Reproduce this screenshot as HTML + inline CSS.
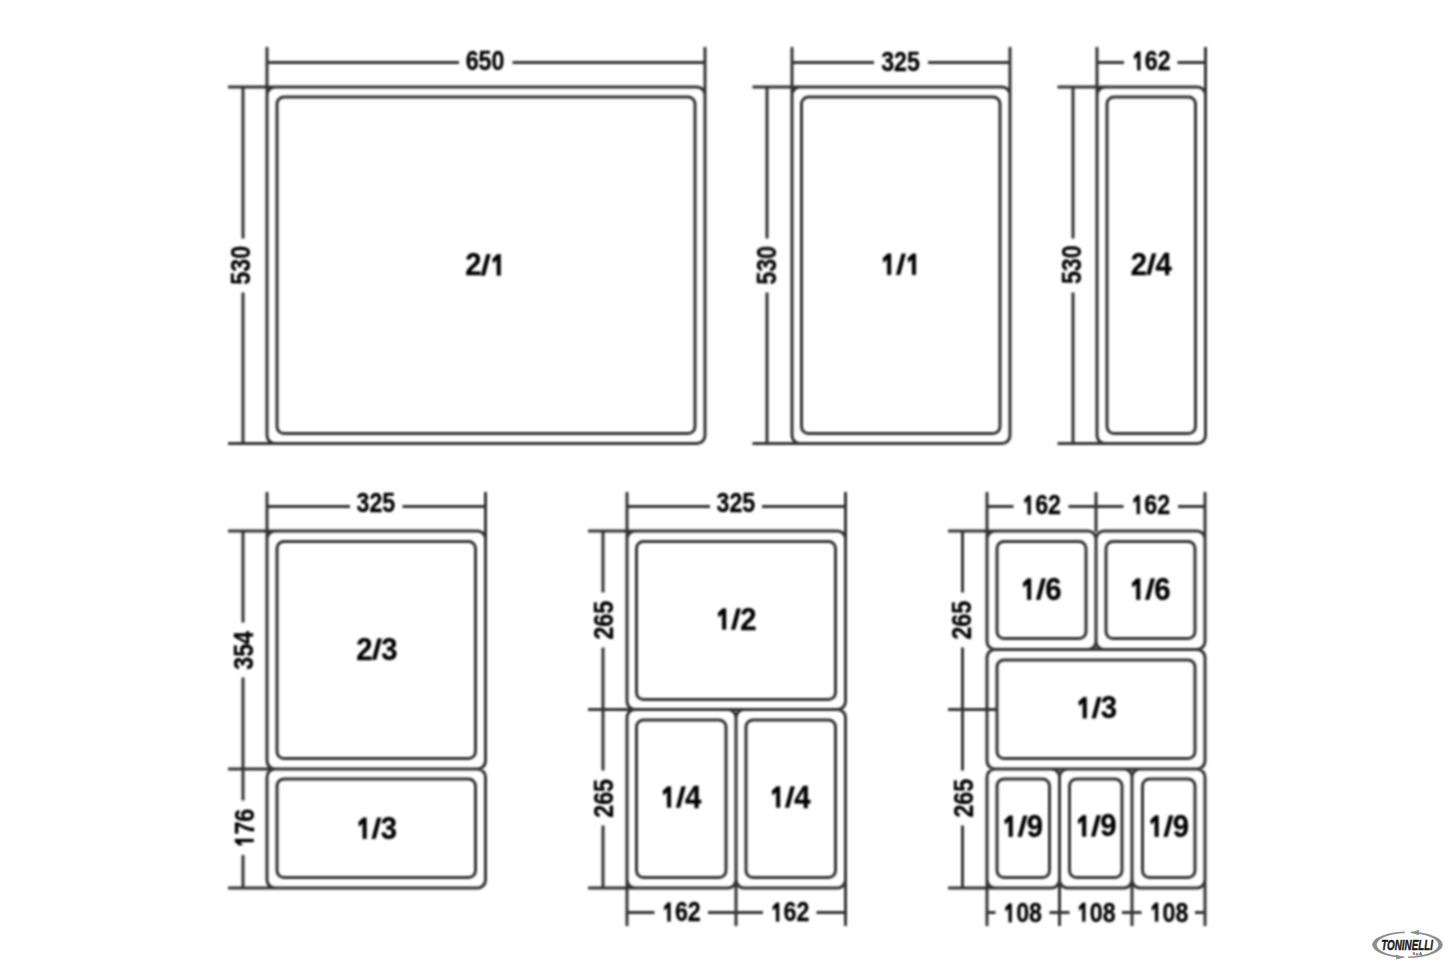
<!DOCTYPE html>
<html><head><meta charset="utf-8"><style>
html,body{margin:0;padding:0;background:#fff;}
svg{display:block;}
text{font-family:"Liberation Sans",sans-serif;font-weight:bold;}
</style></head><body>
<svg width="1445" height="963" viewBox="0 0 1445 963">
<defs><filter id="b" x="-1%" y="-1%" width="102%" height="102%"><feGaussianBlur stdDeviation="0.8"/></filter><filter id="t" x="-1%" y="-1%" width="102%" height="102%"><feGaussianBlur stdDeviation="0.8"/></filter></defs>
<rect width="1445" height="963" fill="#fff"/>
<g filter="url(#b)">
<path d="M275 87H697A8 8 0 0 1 705 95V435.5A8 8 0 0 1 697 443.5H275A8 8 0 0 1 267 435.5V95A8 8 0 0 1 275 87Z M284 97H688A7 7 0 0 1 695 104V426.5A7 7 0 0 1 688 433.5H284A7 7 0 0 1 277 426.5V104A7 7 0 0 1 284 97Z M267 47L267 95 M705 47L705 95 M228 87L275 87 M228 443.5L275 443.5 M267 62.5L459 62.5 M512.5 62.5L705 62.5 M243 87L243 238.5 M243 292.5L243 443.5 M800 87H1002A8 8 0 0 1 1010 95V435.5A8 8 0 0 1 1002 443.5H800A8 8 0 0 1 792 435.5V95A8 8 0 0 1 800 87Z M808.5 97H993A7 7 0 0 1 1000 104V426.5A7 7 0 0 1 993 433.5H808.5A7 7 0 0 1 801.5 426.5V104A7 7 0 0 1 808.5 97Z M792 47L792 95 M1010 47L1010 95 M752.5 87L800 87 M752.5 443.5L800 443.5 M792 62.5L874 62.5 M928 62.5L1010 62.5 M767 87L767 238.5 M767 292.5L767 443.5 M1105 87H1197.5A8 8 0 0 1 1205.5 95V435.5A8 8 0 0 1 1197.5 443.5H1105A8 8 0 0 1 1097 435.5V95A8 8 0 0 1 1105 87Z M1114 97H1188.5A7 7 0 0 1 1195.5 104V426.5A7 7 0 0 1 1188.5 433.5H1114A7 7 0 0 1 1107 426.5V104A7 7 0 0 1 1114 97Z M1097 47L1097 95 M1205.5 47L1205.5 95 M1057.5 87L1105 87 M1057.5 443.5L1105 443.5 M1097 62.5L1124 62.5 M1177.5 62.5L1205.5 62.5 M1073 87L1073 238.5 M1073 292.5L1073 443.5 M275 531H477.5A8 8 0 0 1 485.5 539V761A8 8 0 0 1 477.5 769H275A8 8 0 0 1 267 761V539A8 8 0 0 1 275 531Z M275 769H477.5A8 8 0 0 1 485.5 777V880A8 8 0 0 1 477.5 888H275A8 8 0 0 1 267 880V777A8 8 0 0 1 275 769Z M284 541.5H468.5A7 7 0 0 1 475.5 548.5V751.5A7 7 0 0 1 468.5 758.5H284A7 7 0 0 1 277 751.5V548.5A7 7 0 0 1 284 541.5Z M284 779H468.5A7 7 0 0 1 475.5 786V870.5A7 7 0 0 1 468.5 877.5H284A7 7 0 0 1 277 870.5V786A7 7 0 0 1 284 779Z M267 492L267 539 M485.5 492L485.5 539 M228 531L275 531 M228 769L275 769 M228 888L275 888 M267 506.5L350 506.5 M402.5 506.5L485.5 506.5 M243 531L243 622.5 M243 677.5L243 800.5 M243 855L243 888 M635 531H837.5A8 8 0 0 1 845.5 539V701.5A8 8 0 0 1 837.5 709.5H635A8 8 0 0 1 627 701.5V539A8 8 0 0 1 635 531Z M635 709.5H728A8 8 0 0 1 736 717.5V880A8 8 0 0 1 728 888H635A8 8 0 0 1 627 880V717.5A8 8 0 0 1 635 709.5Z M744 709.5H837.5A8 8 0 0 1 845.5 717.5V880A8 8 0 0 1 837.5 888H744A8 8 0 0 1 736 880V717.5A8 8 0 0 1 744 709.5Z M643.5 541.5H828.5A7 7 0 0 1 835.5 548.5V692.5A7 7 0 0 1 828.5 699.5H643.5A7 7 0 0 1 636.5 692.5V548.5A7 7 0 0 1 643.5 541.5Z M643.5 720H719A7 7 0 0 1 726 727V870.5A7 7 0 0 1 719 877.5H643.5A7 7 0 0 1 636.5 870.5V727A7 7 0 0 1 643.5 720Z M753 720H828.5A7 7 0 0 1 835.5 727V870.5A7 7 0 0 1 828.5 877.5H753A7 7 0 0 1 746 870.5V727A7 7 0 0 1 753 720Z M627 492L627 539 M845.5 492L845.5 539 M588 531L635 531 M588 709.5L635 709.5 M588 888L635 888 M627 880L627 926 M845.5 880L845.5 926 M736 880L736 926 M627 506.5L710 506.5 M762 506.5L845.5 506.5 M603 531L603 592.5 M603 647.5L603 770.5 M603 825.5L603 888 M627 912.5L654.5 912.5 M708 912.5L763 912.5 M816.5 912.5L845.5 912.5 M995 531H1088A8 8 0 0 1 1096 539V641.5A8 8 0 0 1 1088 649.5H995A8 8 0 0 1 987 641.5V539A8 8 0 0 1 995 531Z M1104 531H1197A8 8 0 0 1 1205 539V641.5A8 8 0 0 1 1197 649.5H1104A8 8 0 0 1 1096 641.5V539A8 8 0 0 1 1104 531Z M995 649.5H1197A8 8 0 0 1 1205 657.5V761A8 8 0 0 1 1197 769H995A8 8 0 0 1 987 761V657.5A8 8 0 0 1 995 649.5Z M995 769H1051.5A8 8 0 0 1 1059.5 777V880A8 8 0 0 1 1051.5 888H995A8 8 0 0 1 987 880V777A8 8 0 0 1 995 769Z M1067.5 769H1124A8 8 0 0 1 1132 777V880A8 8 0 0 1 1124 888H1067.5A8 8 0 0 1 1059.5 880V777A8 8 0 0 1 1067.5 769Z M1140 769H1197A8 8 0 0 1 1205 777V880A8 8 0 0 1 1197 888H1140A8 8 0 0 1 1132 880V777A8 8 0 0 1 1140 769Z M1004 541.5H1079A7 7 0 0 1 1086 548.5V631.5A7 7 0 0 1 1079 638.5H1004A7 7 0 0 1 997 631.5V548.5A7 7 0 0 1 1004 541.5Z M1113 541.5H1188A7 7 0 0 1 1195 548.5V631.5A7 7 0 0 1 1188 638.5H1113A7 7 0 0 1 1106 631.5V548.5A7 7 0 0 1 1113 541.5Z M1004 660H1188A7 7 0 0 1 1195 667V751.5A7 7 0 0 1 1188 758.5H1004A7 7 0 0 1 997 751.5V667A7 7 0 0 1 1004 660Z M1004 779H1042.5A7 7 0 0 1 1049.5 786V870.5A7 7 0 0 1 1042.5 877.5H1004A7 7 0 0 1 997 870.5V786A7 7 0 0 1 1004 779Z M1076.5 779H1115A7 7 0 0 1 1122 786V870.5A7 7 0 0 1 1115 877.5H1076.5A7 7 0 0 1 1069.5 870.5V786A7 7 0 0 1 1076.5 779Z M1149.5 779H1188A7 7 0 0 1 1195 786V870.5A7 7 0 0 1 1188 877.5H1149.5A7 7 0 0 1 1142.5 870.5V786A7 7 0 0 1 1149.5 779Z M987 492L987 539 M1205 492L1205 539 M1096 492L1096 532 M948 531L995 531 M948 709.5L997 709.5 M948 888L995 888 M987 880L987 926 M1205 880L1205 926 M1059.5 880L1059.5 926 M1132 880L1132 926 M987 506.5L1013.5 506.5 M1068.5 506.5L1123.5 506.5 M1178 506.5L1205 506.5 M962.5 531L962.5 592.5 M962.5 647.5L962.5 770.5 M962.5 825.5L962.5 888 M987 912.5L995.5 912.5 M1049.5 912.5L1069.5 912.5 M1122 912.5L1141.5 912.5 M1195 912.5L1205 912.5" fill="none" stroke="#303030" stroke-width="3.0" stroke-linecap="butt"/>
</g>
<g fill="#000" stroke="#000" stroke-width="0.3" filter="url(#t)">
<g transform="translate(485.00 61.00) scale(0.85 1)"><text x="-22.77" y="9.39" font-size="27.3">6</text><text x="-7.59" y="9.39" font-size="27.3">5</text><text x="7.59" y="9.39" font-size="27.3">0</text></g>
<g transform="translate(900.50 61.20) scale(0.85 1)"><text x="-22.77" y="9.39" font-size="27.3">3</text><text x="-7.59" y="9.39" font-size="27.3">2</text><text x="7.59" y="9.39" font-size="27.3">5</text></g>
<g transform="translate(1151.20 60.98) scale(0.85 1)"><path transform="translate(-22.77 9.39) scale(27.3)" stroke-width="0.0110" d="M0.2350 0 L0.3650 0 L0.3650 -0.6880 L0.2450 -0.6880 L0.0850 -0.5380 L0.1150 -0.3980 L0.2350 -0.5080 Z"/><text x="-7.59" y="9.39" font-size="27.3">6</text><text x="7.59" y="9.39" font-size="27.3">2</text></g>
<g transform="translate(375.90 502.20) scale(0.85 1)"><text x="-22.77" y="9.39" font-size="27.3">3</text><text x="-7.59" y="9.39" font-size="27.3">2</text><text x="7.59" y="9.39" font-size="27.3">5</text></g>
<g transform="translate(735.90 502.80) scale(0.85 1)"><text x="-22.77" y="9.39" font-size="27.3">3</text><text x="-7.59" y="9.39" font-size="27.3">2</text><text x="7.59" y="9.39" font-size="27.3">5</text></g>
<g transform="translate(1041.60 505.00) scale(0.85 1)"><path transform="translate(-22.77 9.39) scale(27.3)" stroke-width="0.0110" d="M0.2350 0 L0.3650 0 L0.3650 -0.6880 L0.2450 -0.6880 L0.0850 -0.5380 L0.1150 -0.3980 L0.2350 -0.5080 Z"/><text x="-7.59" y="9.39" font-size="27.3">6</text><text x="7.59" y="9.39" font-size="27.3">2</text></g>
<g transform="translate(1150.70 504.70) scale(0.85 1)"><path transform="translate(-22.77 9.39) scale(27.3)" stroke-width="0.0110" d="M0.2350 0 L0.3650 0 L0.3650 -0.6880 L0.2450 -0.6880 L0.0850 -0.5380 L0.1150 -0.3980 L0.2350 -0.5080 Z"/><text x="-7.59" y="9.39" font-size="27.3">6</text><text x="7.59" y="9.39" font-size="27.3">2</text></g>
<g transform="translate(681.40 912.00) scale(0.85 1)"><path transform="translate(-22.77 9.39) scale(27.3)" stroke-width="0.0110" d="M0.2350 0 L0.3650 0 L0.3650 -0.6880 L0.2450 -0.6880 L0.0850 -0.5380 L0.1150 -0.3980 L0.2350 -0.5080 Z"/><text x="-7.59" y="9.39" font-size="27.3">6</text><text x="7.59" y="9.39" font-size="27.3">2</text></g>
<g transform="translate(790.00 912.10) scale(0.85 1)"><path transform="translate(-22.77 9.39) scale(27.3)" stroke-width="0.0110" d="M0.2350 0 L0.3650 0 L0.3650 -0.6880 L0.2450 -0.6880 L0.0850 -0.5380 L0.1150 -0.3980 L0.2350 -0.5080 Z"/><text x="-7.59" y="9.39" font-size="27.3">6</text><text x="7.59" y="9.39" font-size="27.3">2</text></g>
<g transform="translate(1022.60 912.90) scale(0.85 1)"><path transform="translate(-22.77 9.39) scale(27.3)" stroke-width="0.0110" d="M0.2350 0 L0.3650 0 L0.3650 -0.6880 L0.2450 -0.6880 L0.0850 -0.5380 L0.1150 -0.3980 L0.2350 -0.5080 Z"/><text x="-7.59" y="9.39" font-size="27.3">0</text><text x="7.59" y="9.39" font-size="27.3">8</text></g>
<g transform="translate(1096.20 912.20) scale(0.85 1)"><path transform="translate(-22.77 9.39) scale(27.3)" stroke-width="0.0110" d="M0.2350 0 L0.3650 0 L0.3650 -0.6880 L0.2450 -0.6880 L0.0850 -0.5380 L0.1150 -0.3980 L0.2350 -0.5080 Z"/><text x="-7.59" y="9.39" font-size="27.3">0</text><text x="7.59" y="9.39" font-size="27.3">8</text></g>
<g transform="translate(1169.00 912.20) scale(0.85 1)"><path transform="translate(-22.77 9.39) scale(27.3)" stroke-width="0.0110" d="M0.2350 0 L0.3650 0 L0.3650 -0.6880 L0.2450 -0.6880 L0.0850 -0.5380 L0.1150 -0.3980 L0.2350 -0.5080 Z"/><text x="-7.59" y="9.39" font-size="27.3">0</text><text x="7.59" y="9.39" font-size="27.3">8</text></g>
<g transform="translate(241.00 265.28) rotate(-90) scale(0.85 1)"><text x="-22.77" y="9.39" font-size="27.3">5</text><text x="-7.59" y="9.39" font-size="27.3">3</text><text x="7.59" y="9.39" font-size="27.3">0</text></g>
<g transform="translate(767.00 265.22) rotate(-90) scale(0.85 1)"><text x="-22.77" y="9.39" font-size="27.3">5</text><text x="-7.59" y="9.39" font-size="27.3">3</text><text x="7.59" y="9.39" font-size="27.3">0</text></g>
<g transform="translate(1071.20 264.72) rotate(-90) scale(0.85 1)"><text x="-22.77" y="9.39" font-size="27.3">5</text><text x="-7.59" y="9.39" font-size="27.3">3</text><text x="7.59" y="9.39" font-size="27.3">0</text></g>
<g transform="translate(243.80 650.32) rotate(-90) scale(0.85 1)"><text x="-22.77" y="9.39" font-size="27.3">3</text><text x="-7.59" y="9.39" font-size="27.3">5</text><text x="7.59" y="9.39" font-size="27.3">4</text></g>
<g transform="translate(244.30 828.10) rotate(-90) scale(0.85 1)"><path transform="translate(-22.77 9.39) scale(27.3)" stroke-width="0.0110" d="M0.2350 0 L0.3650 0 L0.3650 -0.6880 L0.2450 -0.6880 L0.0850 -0.5380 L0.1150 -0.3980 L0.2350 -0.5080 Z"/><text x="-7.59" y="9.39" font-size="27.3">7</text><text x="7.59" y="9.39" font-size="27.3">6</text></g>
<g transform="translate(603.60 620.20) rotate(-90) scale(0.85 1)"><text x="-22.77" y="9.39" font-size="27.3">2</text><text x="-7.59" y="9.39" font-size="27.3">6</text><text x="7.59" y="9.39" font-size="27.3">5</text></g>
<g transform="translate(603.60 798.32) rotate(-90) scale(0.85 1)"><text x="-22.77" y="9.39" font-size="27.3">2</text><text x="-7.59" y="9.39" font-size="27.3">6</text><text x="7.59" y="9.39" font-size="27.3">5</text></g>
<g transform="translate(961.40 620.20) rotate(-90) scale(0.85 1)"><text x="-22.77" y="9.39" font-size="27.3">2</text><text x="-7.59" y="9.39" font-size="27.3">6</text><text x="7.59" y="9.39" font-size="27.3">5</text></g>
<g transform="translate(963.60 798.20) rotate(-90) scale(0.85 1)"><text x="-22.77" y="9.39" font-size="27.3">2</text><text x="-7.59" y="9.39" font-size="27.3">6</text><text x="7.59" y="9.39" font-size="27.3">5</text></g>
<g transform="translate(485.70 264.90) scale(0.955 1)"><text x="-21.52" y="10.56" font-size="30.7">2</text><path transform="translate(-4.45 10.56) scale(30.7)" stroke-width="0.0098" d="M-0.0175 0 L0.1175 0 L0.3075 -0.6880 L0.1725 -0.6880 Z"/><path transform="translate(4.45 10.56) scale(30.7)" stroke-width="0.0098" d="M0.2350 0 L0.3650 0 L0.3650 -0.6880 L0.2450 -0.6880 L0.0850 -0.5380 L0.1150 -0.3980 L0.2350 -0.5080 Z"/></g>
<g transform="translate(900.90 264.30) scale(0.955 1)"><path transform="translate(-21.52 10.56) scale(30.7)" stroke-width="0.0098" d="M0.2350 0 L0.3650 0 L0.3650 -0.6880 L0.2450 -0.6880 L0.0850 -0.5380 L0.1150 -0.3980 L0.2350 -0.5080 Z"/><path transform="translate(-4.45 10.56) scale(30.7)" stroke-width="0.0098" d="M-0.0175 0 L0.1175 0 L0.3075 -0.6880 L0.1725 -0.6880 Z"/><path transform="translate(4.45 10.56) scale(30.7)" stroke-width="0.0098" d="M0.2350 0 L0.3650 0 L0.3650 -0.6880 L0.2450 -0.6880 L0.0850 -0.5380 L0.1150 -0.3980 L0.2350 -0.5080 Z"/></g>
<g transform="translate(1151.28 264.10) scale(0.955 1)"><text x="-21.52" y="10.56" font-size="30.7">2</text><path transform="translate(-4.45 10.56) scale(30.7)" stroke-width="0.0098" d="M-0.0175 0 L0.1175 0 L0.3075 -0.6880 L0.1725 -0.6880 Z"/><text x="4.45" y="10.56" font-size="30.7">4</text></g>
<g transform="translate(376.90 649.10) scale(0.955 1)"><text x="-21.52" y="10.56" font-size="30.7">2</text><path transform="translate(-4.45 10.56) scale(30.7)" stroke-width="0.0098" d="M-0.0175 0 L0.1175 0 L0.3075 -0.6880 L0.1725 -0.6880 Z"/><text x="4.45" y="10.56" font-size="30.7">3</text></g>
<g transform="translate(376.40 828.20) scale(0.955 1)"><path transform="translate(-21.52 10.56) scale(30.7)" stroke-width="0.0098" d="M0.2350 0 L0.3650 0 L0.3650 -0.6880 L0.2450 -0.6880 L0.0850 -0.5380 L0.1150 -0.3980 L0.2350 -0.5080 Z"/><path transform="translate(-4.45 10.56) scale(30.7)" stroke-width="0.0098" d="M-0.0175 0 L0.1175 0 L0.3075 -0.6880 L0.1725 -0.6880 Z"/><text x="4.45" y="10.56" font-size="30.7">3</text></g>
<g transform="translate(735.90 619.00) scale(0.955 1)"><path transform="translate(-21.52 10.56) scale(30.7)" stroke-width="0.0098" d="M0.2350 0 L0.3650 0 L0.3650 -0.6880 L0.2450 -0.6880 L0.0850 -0.5380 L0.1150 -0.3980 L0.2350 -0.5080 Z"/><path transform="translate(-4.45 10.56) scale(30.7)" stroke-width="0.0098" d="M-0.0175 0 L0.1175 0 L0.3075 -0.6880 L0.1725 -0.6880 Z"/><text x="4.45" y="10.56" font-size="30.7">2</text></g>
<g transform="translate(680.80 797.00) scale(0.955 1)"><path transform="translate(-21.52 10.56) scale(30.7)" stroke-width="0.0098" d="M0.2350 0 L0.3650 0 L0.3650 -0.6880 L0.2450 -0.6880 L0.0850 -0.5380 L0.1150 -0.3980 L0.2350 -0.5080 Z"/><path transform="translate(-4.45 10.56) scale(30.7)" stroke-width="0.0098" d="M-0.0175 0 L0.1175 0 L0.3075 -0.6880 L0.1725 -0.6880 Z"/><text x="4.45" y="10.56" font-size="30.7">4</text></g>
<g transform="translate(789.90 797.00) scale(0.955 1)"><path transform="translate(-21.52 10.56) scale(30.7)" stroke-width="0.0098" d="M0.2350 0 L0.3650 0 L0.3650 -0.6880 L0.2450 -0.6880 L0.0850 -0.5380 L0.1150 -0.3980 L0.2350 -0.5080 Z"/><path transform="translate(-4.45 10.56) scale(30.7)" stroke-width="0.0098" d="M-0.0175 0 L0.1175 0 L0.3075 -0.6880 L0.1725 -0.6880 Z"/><text x="4.45" y="10.56" font-size="30.7">4</text></g>
<g transform="translate(1040.90 589.10) scale(0.955 1)"><path transform="translate(-21.52 10.56) scale(30.7)" stroke-width="0.0098" d="M0.2350 0 L0.3650 0 L0.3650 -0.6880 L0.2450 -0.6880 L0.0850 -0.5380 L0.1150 -0.3980 L0.2350 -0.5080 Z"/><path transform="translate(-4.45 10.56) scale(30.7)" stroke-width="0.0098" d="M-0.0175 0 L0.1175 0 L0.3075 -0.6880 L0.1725 -0.6880 Z"/><text x="4.45" y="10.56" font-size="30.7">6</text></g>
<g transform="translate(1150.00 589.10) scale(0.955 1)"><path transform="translate(-21.52 10.56) scale(30.7)" stroke-width="0.0098" d="M0.2350 0 L0.3650 0 L0.3650 -0.6880 L0.2450 -0.6880 L0.0850 -0.5380 L0.1150 -0.3980 L0.2350 -0.5080 Z"/><path transform="translate(-4.45 10.56) scale(30.7)" stroke-width="0.0098" d="M-0.0175 0 L0.1175 0 L0.3075 -0.6880 L0.1725 -0.6880 Z"/><text x="4.45" y="10.56" font-size="30.7">6</text></g>
<g transform="translate(1096.52 707.70) scale(0.955 1)"><path transform="translate(-21.52 10.56) scale(30.7)" stroke-width="0.0098" d="M0.2350 0 L0.3650 0 L0.3650 -0.6880 L0.2450 -0.6880 L0.0850 -0.5380 L0.1150 -0.3980 L0.2350 -0.5080 Z"/><path transform="translate(-4.45 10.56) scale(30.7)" stroke-width="0.0098" d="M-0.0175 0 L0.1175 0 L0.3075 -0.6880 L0.1725 -0.6880 Z"/><text x="4.45" y="10.56" font-size="30.7">3</text></g>
<g transform="translate(1022.50 826.20) scale(0.955 1)"><path transform="translate(-21.52 10.56) scale(30.7)" stroke-width="0.0098" d="M0.2350 0 L0.3650 0 L0.3650 -0.6880 L0.2450 -0.6880 L0.0850 -0.5380 L0.1150 -0.3980 L0.2350 -0.5080 Z"/><path transform="translate(-4.45 10.56) scale(30.7)" stroke-width="0.0098" d="M-0.0175 0 L0.1175 0 L0.3075 -0.6880 L0.1725 -0.6880 Z"/><text x="4.45" y="10.56" font-size="30.7">9</text></g>
<g transform="translate(1095.90 825.90) scale(0.955 1)"><path transform="translate(-21.52 10.56) scale(30.7)" stroke-width="0.0098" d="M0.2350 0 L0.3650 0 L0.3650 -0.6880 L0.2450 -0.6880 L0.0850 -0.5380 L0.1150 -0.3980 L0.2350 -0.5080 Z"/><path transform="translate(-4.45 10.56) scale(30.7)" stroke-width="0.0098" d="M-0.0175 0 L0.1175 0 L0.3075 -0.6880 L0.1725 -0.6880 Z"/><text x="4.45" y="10.56" font-size="30.7">9</text></g>
<g transform="translate(1168.40 826.10) scale(0.955 1)"><path transform="translate(-21.52 10.56) scale(30.7)" stroke-width="0.0098" d="M0.2350 0 L0.3650 0 L0.3650 -0.6880 L0.2450 -0.6880 L0.0850 -0.5380 L0.1150 -0.3980 L0.2350 -0.5080 Z"/><path transform="translate(-4.45 10.56) scale(30.7)" stroke-width="0.0098" d="M-0.0175 0 L0.1175 0 L0.3075 -0.6880 L0.1725 -0.6880 Z"/><text x="4.45" y="10.56" font-size="30.7">9</text></g>
</g>

<g>
  <path d="M1372.15 944.75A35.35 13.25 0 1 0 1442.85 944.75A35.35 13.25 0 1 0 1372.15 944.75Z M1376.7 944.75A30.8 11.7 0 1 0 1438.3 944.75A30.8 11.7 0 1 0 1376.7 944.75Z" fill="#8e8e8e" fill-rule="evenodd"/>
  <rect x="1404.8" y="928" width="6" height="8" fill="#fff"/>
  <rect x="1404.2" y="953" width="4" height="8" fill="#fff"/>
  <path d="M1410.8 932.4 L1419.5 929.8 L1418.5 935.2 Z" fill="#8e8e8e"/>
  <path d="M1404.4 957.2 L1395.6 954.6 L1396.4 959.6 Z" fill="#8e8e8e"/>
  <text x="0" y="0" font-size="14.6" font-family="Liberation Sans" font-weight="bold" font-style="italic" fill="#1e1e1e" stroke="#1e1e1e" stroke-width="0.5" transform="translate(1381.2 949.9) scale(0.675 1)">TONINELLI</text>
  <text x="0" y="0" font-size="4.2" font-family="Liberation Sans" font-weight="bold" fill="#444" transform="translate(1412.4 955.3) scale(0.9 1)">S.p.A</text>
</g>
</svg>
</body></html>
